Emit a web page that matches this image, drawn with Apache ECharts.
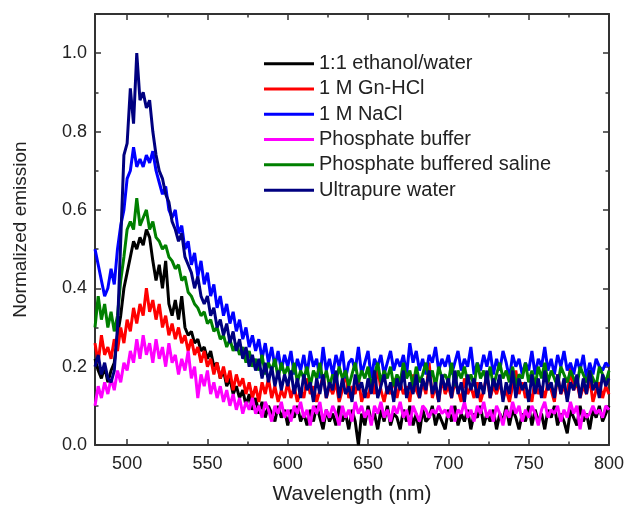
<!DOCTYPE html>
<html>
<head>
<meta charset="utf-8">
<script src="https://cdn.jsdelivr.net/npm/echarts@6/dist/echarts.min.js"></script>
<style>
  html, body { margin: 0; padding: 0; background: #fff; }
  #chart { width: 624px; height: 506px; }
</style>
</head>
<body>
<div id="chart"></div>
<script>
// wavelength grid: 480..800 nm every 2 nm
const wlStart = 480;
const wlStep = 2;

const ethanolWater = [
  0.22, 0.19, 0.17, 0.20, 0.16,  0.19, 0.21, 0.28, 0.33, 0.40,
  0.44, 0.48, 0.52, 0.50, 0.53,  0.51, 0.55, 0.53, 0.47, 0.42,
  0.46, 0.40, 0.47, 0.36, 0.33,  0.37, 0.32, 0.38, 0.30, 0.28,
  0.29, 0.26, 0.27, 0.24, 0.25,  0.22, 0.24, 0.20, 0.21, 0.17,
  0.19, 0.15, 0.17, 0.13, 0.15,  0.12, 0.14, 0.10, 0.13, 0.09,
  0.12, 0.08, 0.11, 0.07, 0.10,  0.08, 0.06, 0.10, 0.07, 0.09,
  0.05, 0.09, 0.07, 0.10, 0.06,  0.08, 0.05, 0.09, 0.06, 0.10,
  0.07, 0.04, 0.09, 0.06, 0.08,  0.05, 0.10, 0.06, 0.08, 0.04,
  0.09, 0.06, 0.00, 0.08, 0.05,  0.10, 0.06, 0.08, 0.04, 0.09,
  0.06, 0.10, 0.05, 0.08, 0.07,  0.04, 0.09, 0.06, 0.10, 0.05,
  0.08, 0.03, 0.09, 0.06, 0.07,  0.10, 0.05, 0.08, 0.06, 0.04,
  0.09, 0.06, 0.10, 0.05, 0.08,  0.06, 0.09, 0.04, 0.08, 0.07,
  0.10, 0.05, 0.08, 0.06, 0.09,  0.04, 0.08, 0.06, 0.10, 0.05,
  0.09, 0.07, 0.04, 0.08, 0.06,  0.10, 0.05, 0.09, 0.06, 0.08,
  0.04, 0.09, 0.07, 0.10, 0.05,  0.08, 0.06, 0.03, 0.09, 0.07,
  0.05, 0.10, 0.06, 0.08, 0.04,  0.09, 0.07, 0.10, 0.06, 0.08,
  0.10
];
const gnHcl = [
  0.26, 0.21, 0.28, 0.23, 0.25,  0.22, 0.27, 0.24, 0.30, 0.26,
  0.32, 0.29, 0.35, 0.31, 0.36,  0.33, 0.40, 0.34, 0.37, 0.32,
  0.36, 0.30, 0.33, 0.28, 0.31,  0.27, 0.30, 0.26, 0.28, 0.24,
  0.27, 0.23, 0.25, 0.21, 0.24,  0.20, 0.22, 0.18, 0.21, 0.17,
  0.20, 0.16, 0.19, 0.14, 0.18,  0.15, 0.17, 0.13, 0.16, 0.12,
  0.15, 0.11, 0.16, 0.13, 0.17,  0.12, 0.15, 0.11, 0.14, 0.12,
  0.16, 0.12, 0.15, 0.11, 0.14,  0.12, 0.17, 0.13, 0.15, 0.11,
  0.14, 0.18, 0.12, 0.15, 0.13,  0.16, 0.11, 0.14, 0.19, 0.12,
  0.15, 0.13, 0.17, 0.11, 0.14,  0.12, 0.16, 0.13, 0.20, 0.14,
  0.11, 0.15, 0.13, 0.17, 0.12,  0.16, 0.13, 0.15, 0.11, 0.18,
  0.14, 0.12, 0.16, 0.13, 0.21,  0.12, 0.15, 0.11, 0.17, 0.13,
  0.15, 0.12, 0.16, 0.14, 0.11,  0.17, 0.13, 0.15, 0.12, 0.16,
  0.11, 0.14, 0.18, 0.12, 0.15,  0.13, 0.16, 0.12, 0.14, 0.11,
  0.15, 0.19, 0.13, 0.16, 0.12,  0.14, 0.11, 0.17, 0.13, 0.15,
  0.12, 0.16, 0.14, 0.11, 0.18,  0.13, 0.15, 0.12, 0.20, 0.14,
  0.16, 0.12, 0.15, 0.13, 0.17,  0.11, 0.14, 0.16, 0.12, 0.15,
  0.13
];
const naCl = [
  0.50, 0.46, 0.42, 0.38, 0.40,  0.45, 0.41, 0.50, 0.56, 0.60,
  0.68, 0.70, 0.76, 0.71, 0.73,  0.71, 0.74, 0.72, 0.75, 0.70,
  0.67, 0.64, 0.66, 0.60, 0.58,  0.60, 0.54, 0.56, 0.50, 0.52,
  0.46, 0.49, 0.43, 0.47, 0.41,  0.44, 0.38, 0.41, 0.35, 0.38,
  0.33, 0.36, 0.31, 0.34, 0.29,  0.32, 0.27, 0.30, 0.25, 0.28,
  0.24, 0.27, 0.22, 0.26, 0.21,  0.25, 0.20, 0.24, 0.19, 0.23,
  0.20, 0.24, 0.18, 0.22, 0.19,  0.23, 0.18, 0.24, 0.20, 0.22,
  0.17, 0.25, 0.19, 0.22, 0.18,  0.23, 0.20, 0.24, 0.17, 0.21,
  0.22, 0.19, 0.25, 0.18, 0.21,  0.24, 0.17, 0.22, 0.20, 0.23,
  0.18, 0.21, 0.24, 0.19, 0.22,  0.20, 0.23, 0.18, 0.26, 0.21,
  0.24, 0.19, 0.22, 0.18, 0.23,  0.21, 0.25, 0.19, 0.22, 0.20,
  0.23, 0.18, 0.21, 0.24, 0.19,  0.22, 0.20, 0.25, 0.18, 0.21,
  0.19, 0.23, 0.20, 0.24, 0.18,  0.22, 0.19, 0.24, 0.21, 0.17,
  0.23, 0.20, 0.22, 0.18, 0.21,  0.19, 0.24, 0.18, 0.22, 0.20,
  0.25, 0.19, 0.22, 0.18, 0.23,  0.20, 0.24, 0.19, 0.21, 0.18,
  0.22, 0.19, 0.23, 0.17, 0.21,  0.18, 0.22, 0.20, 0.19, 0.21,
  0.20
];
const phosphateBuffer = [
  0.10, 0.15, 0.12, 0.16, 0.13,  0.17, 0.14, 0.19, 0.16, 0.21,
  0.19, 0.24, 0.21, 0.27, 0.22,  0.28, 0.23, 0.26, 0.21, 0.27,
  0.22, 0.25, 0.20, 0.26, 0.21,  0.23, 0.18, 0.22, 0.19, 0.24,
  0.17, 0.20, 0.12, 0.18, 0.15,  0.19, 0.13, 0.16, 0.12, 0.15,
  0.11, 0.14, 0.10, 0.13, 0.09,  0.12, 0.08, 0.11, 0.09, 0.12,
  0.08, 0.10, 0.07, 0.11, 0.09,  0.06, 0.10, 0.08, 0.11, 0.07,
  0.09, 0.06, 0.10, 0.08, 0.11,  0.07, 0.09, 0.05, 0.10, 0.08,
  0.11, 0.06, 0.09, 0.07, 0.10,  0.08, 0.05, 0.10, 0.07, 0.09,
  0.06, 0.11, 0.08, 0.10, 0.07,  0.09, 0.05, 0.10, 0.08, 0.11,
  0.07, 0.09, 0.06, 0.10, 0.08,  0.11, 0.07, 0.09, 0.05, 0.10,
  0.08, 0.06, 0.10, 0.09, 0.07,  0.09, 0.08, 0.10, 0.08, 0.09,
  0.07, 0.10, 0.06, 0.09, 0.08,  0.11, 0.07, 0.09, 0.06, 0.10,
  0.08, 0.11, 0.07, 0.09, 0.06,  0.10, 0.08, 0.05, 0.09, 0.07,
  0.11, 0.08, 0.10, 0.06, 0.09,  0.07, 0.10, 0.08, 0.05, 0.09,
  0.11, 0.07, 0.09, 0.08, 0.10,  0.06, 0.09, 0.07, 0.11, 0.08,
  0.10, 0.04, 0.09, 0.07, 0.08,  0.10, 0.08, 0.09, 0.07, 0.10,
  0.09
];
const pbsSaline = [
  0.30, 0.38, 0.32, 0.36, 0.30,  0.34, 0.29, 0.33, 0.42, 0.48,
  0.55, 0.57, 0.55, 0.63, 0.56,  0.58, 0.60, 0.55, 0.57, 0.53,
  0.52, 0.50, 0.51, 0.48, 0.47,  0.45, 0.46, 0.42, 0.43, 0.39,
  0.38, 0.36, 0.35, 0.33, 0.34,  0.31, 0.32, 0.29, 0.30, 0.27,
  0.28, 0.25, 0.27, 0.24, 0.26,  0.23, 0.25, 0.21, 0.24, 0.20,
  0.22, 0.19, 0.23, 0.18, 0.21,  0.19, 0.22, 0.17, 0.21, 0.18,
  0.20, 0.17, 0.21, 0.16, 0.19,  0.17, 0.20, 0.15, 0.19, 0.17,
  0.21, 0.16, 0.19, 0.15, 0.18,  0.16, 0.20, 0.17, 0.19, 0.15,
  0.18, 0.21, 0.16, 0.19, 0.17,  0.20, 0.15, 0.18, 0.21, 0.16,
  0.19, 0.17, 0.20, 0.15, 0.18,  0.16, 0.21, 0.17, 0.19, 0.15,
  0.20, 0.16, 0.18, 0.21, 0.17,  0.19, 0.15, 0.20, 0.17, 0.18,
  0.16, 0.21, 0.15, 0.19, 0.17,  0.20, 0.16, 0.18, 0.15, 0.21,
  0.17, 0.19, 0.16, 0.20, 0.15,  0.18, 0.21, 0.17, 0.19, 0.16,
  0.20, 0.15, 0.18, 0.17, 0.21,  0.16, 0.19, 0.15, 0.20, 0.17,
  0.21, 0.16, 0.19, 0.17, 0.15,  0.20, 0.18, 0.16, 0.19, 0.17,
  0.15, 0.20, 0.18, 0.16, 0.19,  0.17, 0.15, 0.20, 0.18, 0.16,
  0.19
];
const ultrapureWater = [
  0.20, 0.23, 0.18, 0.21, 0.17,  0.16, 0.19, 0.30, 0.52, 0.74,
  0.77, 0.91, 0.82, 1.00, 0.88,  0.90, 0.86, 0.88, 0.80, 0.74,
  0.70, 0.68, 0.64, 0.62, 0.57,  0.55, 0.52, 0.54, 0.48, 0.46,
  0.44, 0.40, 0.43, 0.38, 0.36,  0.38, 0.33, 0.35, 0.30, 0.32,
  0.28, 0.31, 0.26, 0.29, 0.24,  0.27, 0.22, 0.25, 0.20, 0.23,
  0.19, 0.22, 0.17, 0.21, 0.16,  0.20, 0.15, 0.19, 0.14, 0.18,
  0.15, 0.19, 0.13, 0.17, 0.12,  0.18, 0.14, 0.16, 0.11, 0.17,
  0.13, 0.18, 0.12, 0.16, 0.14,  0.19, 0.12, 0.17, 0.13, 0.15,
  0.11, 0.18, 0.14, 0.16, 0.12,  0.17, 0.13, 0.19, 0.12, 0.15,
  0.18, 0.13, 0.16, 0.11, 0.17,  0.14, 0.19, 0.12, 0.16, 0.13,
  0.18, 0.12, 0.17, 0.14, 0.19,  0.13, 0.16, 0.11, 0.18, 0.14,
  0.17, 0.12, 0.19, 0.13, 0.16,  0.11, 0.18, 0.14, 0.17, 0.12,
  0.16, 0.13, 0.19, 0.12, 0.17,  0.14, 0.18, 0.11, 0.16, 0.13,
  0.19, 0.12, 0.17, 0.14, 0.16,  0.11, 0.18, 0.13, 0.17, 0.12,
  0.19, 0.14, 0.16, 0.12, 0.18,  0.13, 0.17, 0.11, 0.16, 0.14,
  0.18, 0.12, 0.17, 0.13, 0.19,  0.14, 0.16, 0.12, 0.18, 0.15,
  0.17
];

const seriesNames = ['1:1 ethanol/water', '1 M Gn-HCl', '1 M NaCl', 'Phosphate buffer', 'Phosphate buffered saline', 'Ultrapure water'];
const seriesColors = ['#000000', '#ff0000', '#0000ff', '#ff00ff', '#008000', '#000080'];
const seriesValues = [ethanolWater, gnHcl, naCl, phosphateBuffer, pbsSaline, ultrapureWater];

const font = 'Liberation Sans, Arial, sans-serif';
const axisColor = '#333';
const textColor = '#222';

function pairUp(vals) {
  return vals.map((v, i) => [wlStart + i * wlStep, v]);
}

const chart = echarts.init(document.getElementById('chart'), null, { renderer: 'canvas' });

const tickBase = { inside: true, length: 6, lineStyle: { color: axisColor, width: 1.5 } };
const minorBase = { show: true, splitNumber: 2, length: 3.5, lineStyle: { color: axisColor, width: 1.5 } };

const option = {
  backgroundColor: '#fff',
  animation: false,
  textStyle: { fontFamily: font },
  grid: { left: 95, right: 15, top: 14, bottom: 61, containLabel: false, outerBoundsMode: 'none' },
  legend: {
    orient: 'vertical',
    left: 259,
    top: 46,
    icon: 'rect',
    itemWidth: 50,
    itemHeight: 3,
    itemGap: 0,
    data: seriesNames,
    textStyle: { fontFamily: font, fontSize: 20, lineHeight: 25.3, color: textColor }
  },
  xAxis: [{
    type: 'value', min: 480, max: 800, splitNumber: 6,
    name: 'Wavelength (nm)', nameLocation: 'middle', nameGap: 39,
    nameTextStyle: { fontSize: 21, color: textColor, fontFamily: font },
    axisLine: { onZero: false, lineStyle: { color: axisColor, width: 2 } },
    axisTick: tickBase, minorTick: minorBase,
    axisLabel: { fontSize: 18, color: textColor, margin: 10, showMinLabel: false,
      formatter: v => (v % 50 === 0 ? String(v) : '') },
    splitLine: { show: false }
  }, {
    type: 'value', min: 480, max: 800, splitNumber: 6, position: 'top',
    axisLine: { onZero: false, lineStyle: { color: axisColor, width: 2 } },
    axisTick: tickBase, minorTick: minorBase,
    axisLabel: { show: false }, splitLine: { show: false }
  }],
  yAxis: [{
    type: 'value', min: 0, max: 1.1, interval: 0.2,
    name: 'Normalized emission', nameLocation: 'middle', nameGap: 65,
    nameTextStyle: { fontSize: 19, color: textColor, fontFamily: font },
    axisLine: { show: true, onZero: false, lineStyle: { color: axisColor, width: 2 } },
    axisTick: tickBase, minorTick: minorBase,
    axisLabel: { fontSize: 18, color: textColor, margin: 8, showMaxLabel: false,
      formatter: v => (Math.abs(v * 5 - Math.round(v * 5)) < 1e-6 ? v.toFixed(1) : '') },
    splitLine: { show: false }
  }, {
    type: 'value', min: 0, max: 1.1, interval: 0.2, position: 'right',
    axisLine: { show: true, onZero: false, lineStyle: { color: axisColor, width: 2 } },
    axisTick: tickBase, minorTick: minorBase,
    axisLabel: { show: false }, splitLine: { show: false }
  }],
  series: seriesNames.map((name, k) => ({
    name: name,
    type: 'line',
    xAxisIndex: 0,
    yAxisIndex: 0,
    data: pairUp(seriesValues[k]),
    symbol: 'none',
    clip: true,
    color: seriesColors[k],
    lineStyle: { color: seriesColors[k], width: 3 }
  }))
};

chart.setOption(option);
</script>
</body>
</html>
